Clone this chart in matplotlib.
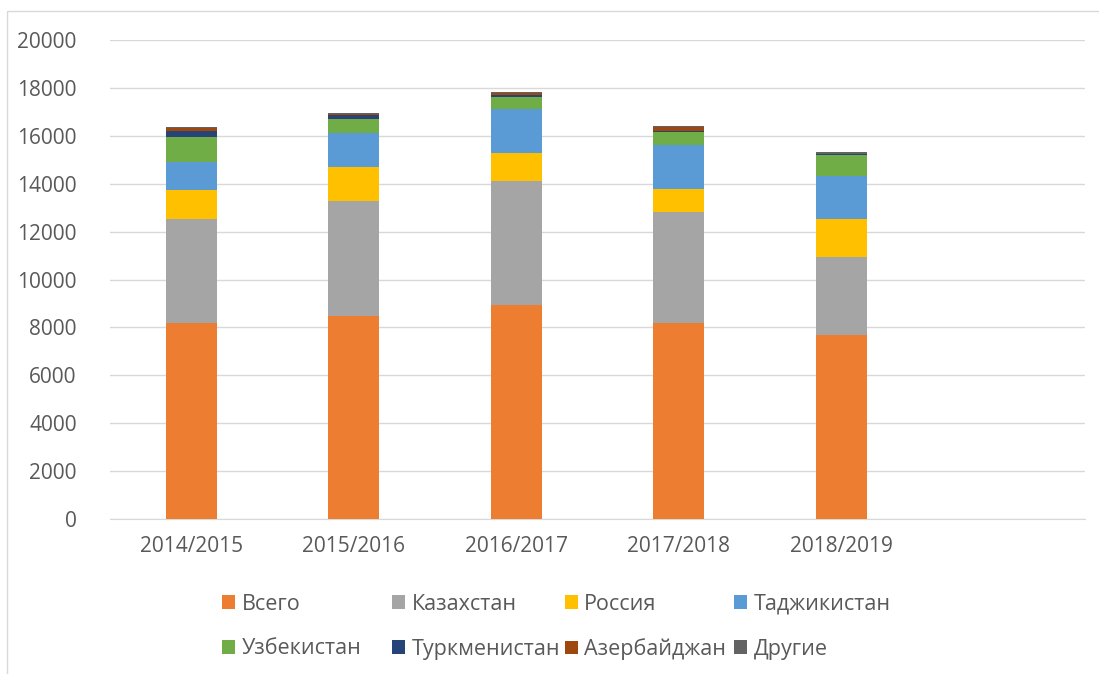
import matplotlib.pyplot as plt
from matplotlib.patches import Rectangle
import numpy as np

plt.rcParams['font.family'] = ['Open Sans', 'DejaVu Sans']

years = ['2014/2015', '2015/2016', '2016/2017', '2017/2018', '2018/2019']
series_names = ['Всего', 'Казахстан', 'Россия', 'Таджикистан',
                'Узбекистан', 'Туркменистан', 'Азербайджан', 'Другие']

vsego = [8200, 8470, 8930, 8180, 7680]
kazakhstan = [4330, 4810, 5180, 4640, 3260]
rossiya = [1220, 1420, 1170, 960, 1590]
tadzhikistan = [1150, 1410, 1820, 1840, 1810]
uzbekistan = [1050, 590, 530, 530, 860]
turkmenistan = [250, 150, 85, 70, 30]
azerbaijan = [120, 60, 55, 150, 20]
drugie = [30, 50, 40, 30, 60]

series = [vsego, kazakhstan, rossiya, tadzhikistan,
          uzbekistan, turkmenistan, azerbaijan, drugie]
colors = ['#ED7D31', '#A5A5A5', '#FFC000', '#5B9BD5',
          '#70AD47', '#264478', '#9E480E', '#636363']

W, H = 1099, 674
fig = plt.figure(figsize=(W / 100, H / 100), dpi=100)
ax = fig.add_axes([110 / W, 1 - 519 / H, (1085 - 110) / W, (519 - 40) / H])

# outer chart border
fig.patches.append(Rectangle((7 / W, -0.01), 1.2, 1 - 11 / H + 0.01, transform=fig.transFigure,
                             fill=False, edgecolor='#D9D9D9', linewidth=1))

x = np.arange(len(years))
bottom = np.zeros(len(years))
handles = []
for name, vals, c in zip(series_names, series, colors):
    b = ax.bar(x, vals, width=0.315, bottom=bottom, color=c, label=name, linewidth=0, zorder=3)
    handles.append(b)
    bottom += np.array(vals)

ax.set_xlim(-0.5, 5.5)
ax.set_ylim(0, 20000)
ax.set_yticks(np.arange(0, 20001, 2000))
ax.set_xticks(x)
ax.set_xticklabels(years)
ax.grid(axis='y', color='#D9D9D9', linewidth=1, zorder=0)
for s in ['left', 'right', 'top']:
    ax.spines[s].set_visible(False)
ax.spines['bottom'].set_color('#D9D9D9')
ax.tick_params(axis='both', length=0, labelsize=15, colors='#595959')
ax.tick_params(axis='y', pad=24)
ax.tick_params(axis='x', pad=12)

# legend, one entry per slot
col_x = [228, 398, 571, 740]
row_y = [604, 649]
for i, (name, h) in enumerate(zip(series_names, handles)):
    cx = col_x[i % 4] - 6
    cy = row_y[i // 4]
    fig.legend([h], [name], loc='center left', bbox_to_anchor=(cx / W, 1 - cy / H),
               frameon=False, fontsize=15.5, handlelength=0.6, handleheight=0.6,
               handletextpad=0.3, borderpad=0, borderaxespad=0, labelcolor='#595959')

fig.savefig('out.png', dpi=100)
